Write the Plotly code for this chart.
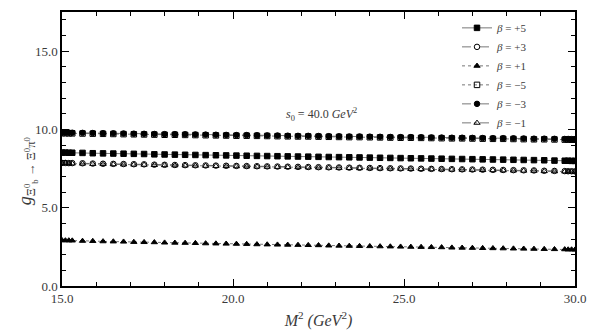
import plotly.graph_objects as go

m2 = [15.0, 15.1, 15.2, 15.3, 15.6,
      15.9, 16.2, 16.5, 16.8, 17.1,
      17.4, 17.7, 18.0, 18.3, 18.6,
      18.9, 19.2, 19.5, 19.8, 20.1,
      20.4, 20.7, 21.0, 21.3, 21.6,
      21.9, 22.2, 22.5, 22.8, 23.1,
      23.4, 23.7, 24.0, 24.3, 24.6,
      24.9, 25.2, 25.5, 25.8, 26.1,
      26.4, 26.7, 27.0, 27.3, 27.6,
      27.9, 28.2, 28.5, 28.8, 29.1,
      29.4, 29.7, 29.8, 29.9, 30.0]

g_p5 = [8.52, 8.52, 8.51, 8.51, 8.50,
        8.48, 8.47, 8.46, 8.45, 8.44,
        8.43, 8.41, 8.40, 8.39, 8.38,
        8.37, 8.36, 8.35, 8.34, 8.33,
        8.32, 8.31, 8.30, 8.29, 8.28,
        8.27, 8.26, 8.25, 8.24, 8.23,
        8.22, 8.21, 8.20, 8.19, 8.18,
        8.17, 8.16, 8.15, 8.14, 8.13,
        8.12, 8.11, 8.10, 8.09, 8.08,
        8.07, 8.06, 8.05, 8.04, 8.03,
        8.01, 8.00, 8.00, 7.99, 7.99]

g_p3 = [7.86, 7.86, 7.85, 7.85, 7.84,
        7.82, 7.81, 7.80, 7.79, 7.78,
        7.77, 7.75, 7.74, 7.73, 7.72,
        7.71, 7.70, 7.69, 7.68, 7.67,
        7.66, 7.65, 7.64, 7.63, 7.62,
        7.61, 7.60, 7.59, 7.58, 7.57,
        7.56, 7.55, 7.54, 7.53, 7.52,
        7.51, 7.50, 7.49, 7.48, 7.47,
        7.46, 7.45, 7.44, 7.43, 7.42,
        7.41, 7.40, 7.39, 7.38, 7.36,
        7.35, 7.34, 7.33, 7.33, 7.32]

g_p1 = [2.92, 2.91, 2.91, 2.90, 2.88,
        2.87, 2.85, 2.84, 2.83, 2.81,
        2.80, 2.79, 2.77, 2.76, 2.75,
        2.74, 2.72, 2.71, 2.70, 2.69,
        2.68, 2.66, 2.65, 2.64, 2.63,
        2.62, 2.61, 2.60, 2.58, 2.57,
        2.56, 2.55, 2.54, 2.53, 2.52,
        2.51, 2.50, 2.49, 2.48, 2.47,
        2.45, 2.44, 2.43, 2.42, 2.41,
        2.40, 2.39, 2.38, 2.37, 2.36,
        2.35, 2.34, 2.33, 2.33, 2.32]

g_m5 = [9.76, 9.76, 9.75, 9.75, 9.74,
        9.73, 9.72, 9.71, 9.70, 9.69,
        9.68, 9.67, 9.66, 9.66, 9.65,
        9.64, 9.63, 9.62, 9.61, 9.60,
        9.60, 9.59, 9.58, 9.57, 9.56,
        9.55, 9.55, 9.54, 9.53, 9.52,
        9.51, 9.51, 9.50, 9.49, 9.48,
        9.47, 9.47, 9.46, 9.45, 9.44,
        9.43, 9.43, 9.42, 9.41, 9.40,
        9.40, 9.39, 9.38, 9.37, 9.37,
        9.36, 9.35, 9.35, 9.34, 9.34]

g_m3 = [9.81, 9.80, 9.80, 9.79, 9.78,
        9.77, 9.76, 9.75, 9.74, 9.73,
        9.72, 9.71, 9.70, 9.70, 9.69,
        9.68, 9.67, 9.66, 9.65, 9.64,
        9.64, 9.63, 9.62, 9.61, 9.60,
        9.59, 9.59, 9.58, 9.57, 9.56,
        9.55, 9.55, 9.54, 9.53, 9.52,
        9.51, 9.51, 9.50, 9.49, 9.48,
        9.47, 9.47, 9.46, 9.45, 9.44,
        9.44, 9.43, 9.42, 9.41, 9.41,
        9.40, 9.39, 9.39, 9.38, 9.38]

g_m1 = [7.83, 7.83, 7.82, 7.82, 7.81,
        7.79, 7.78, 7.77, 7.76, 7.75,
        7.74, 7.72, 7.71, 7.70, 7.69,
        7.68, 7.67, 7.66, 7.65, 7.64,
        7.63, 7.62, 7.61, 7.60, 7.59,
        7.58, 7.57, 7.56, 7.55, 7.54,
        7.53, 7.52, 7.51, 7.50, 7.49,
        7.48, 7.47, 7.46, 7.45, 7.44,
        7.43, 7.42, 7.41, 7.40, 7.39,
        7.38, 7.37, 7.36, 7.35, 7.33,
        7.32, 7.31, 7.30, 7.30, 7.29]

labels = ["<i>β</i> = +5", "<i>β</i> = +3", "<i>β</i> = +1",
          "<i>β</i> = −5", "<i>β</i> = −3", "<i>β</i> = −1"]
series = [g_p5, g_p3, g_p1, g_m5, g_m3, g_m1]
symbols = ["square", "circle-open", "triangle-up", "square-open", "circle", "triangle-up-open"]
dashes = ["solid", "dash", "dot", "dot", "dash", "dashdot"]

FONT = "Liberation Serif, Times New Roman, serif"
TXT = "#3a3a3a"

fig = go.Figure()
for lab, ys, sym, dsh in zip(labels, series, symbols, dashes):
    fig.add_trace(go.Scatter(
        x=m2, y=ys, name=lab, mode="lines+markers",
        line=dict(color="#555555", width=0.8, dash=dsh),
        marker=dict(symbol=sym, size=5.5, color="black",
                    line=dict(color="black", width=1)),
    ))

axis_common = dict(
    showline=True, linecolor="black", linewidth=1.5, mirror="allticks",
    ticks="inside", ticklen=7, tickcolor="black", tickwidth=1,
    showgrid=False, zeroline=False, tickformat=".1f", automargin=False,
    tickfont=dict(family=FONT, size=13, color=TXT),
)

fig.update_xaxes(range=[15, 30], tick0=15, dtick=5,
                 minor=dict(ticks="inside", ticklen=4, dtick=1, tickcolor="black"),
                 title=dict(text="<i>M</i><sup>2</sup> <i>(GeV</i><sup>2</sup><i>)</i>",
                            font=dict(family=FONT, size=16, color=TXT), standoff=25),
                 **axis_common)
fig.update_yaxes(range=[0, 17.5], tick0=0, dtick=5,
                 minor=dict(ticks="inside", ticklen=4, dtick=1, tickcolor="black"),
                 **axis_common)

fig.add_annotation(xref="paper", yref="paper", x=-0.095, y=0.42, textangle=-90,
                   text="<i>g</i><sub>Ξ<sup>0</sup><sub>b</sub> → Ξ<sup>0</sup>π<sup>0</sup></sub>",
                   showarrow=False, font=dict(family=FONT, size=18, color=TXT))
fig.add_annotation(xref="paper", yref="paper", x=0.505, y=0.625,
                   text="<i>s</i><sub>0</sub> = 40.0 <i>GeV</i><sup>2</sup>",
                   showarrow=False, font=dict(family=FONT, size=12, color=TXT))

fig.update_layout(
    width=589, height=330,
    margin=dict(l=62, r=14, t=12, b=44, autoexpand=False),
    paper_bgcolor="white", plot_bgcolor="white",
    showlegend=True,
    legend=dict(x=0.77, y=0.995, xanchor="left", yanchor="top",
                bgcolor="rgba(0,0,0,0)", borderwidth=0,
                font=dict(family=FONT, size=11, color=TXT),
                itemwidth=30, tracegroupgap=0),
    font=dict(family=FONT, color=TXT),
)

fig.write_html("out.html")
